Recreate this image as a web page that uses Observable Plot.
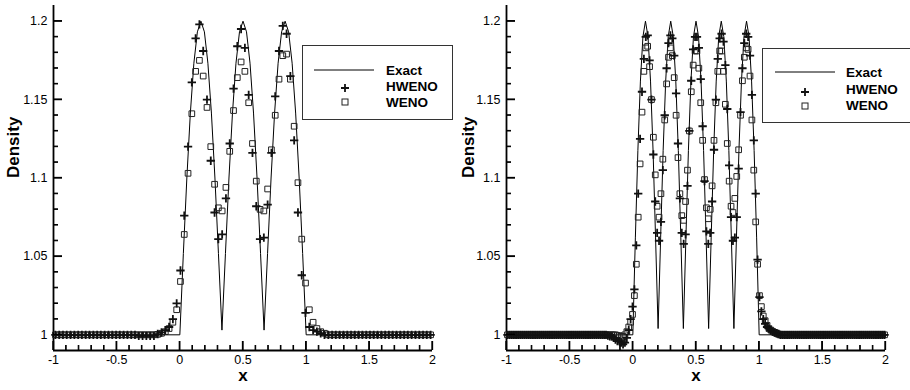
<!DOCTYPE html>
<html><head><meta charset="utf-8">
<script src="https://cdn.jsdelivr.net/npm/d3@7"></script>
<script src="https://cdn.jsdelivr.net/npm/@observablehq/plot@0.6"></script>
<style>
body{margin:0;background:#fff;font-family:"Liberation Sans",Arial,sans-serif;}
#wrap{display:flex;width:910px;height:390px;}
.panel{position:relative;width:455px;height:390px;overflow:hidden;}
.legend{position:absolute;box-sizing:border-box;border:1.3px solid #333;background:#fff;}
</style></head><body>
<div id="wrap"><div class="panel" id="p1"></div><div class="panel" id="p2"></div></div>
<script>
// ---------- tick labels ----------
const xMajor = [-1, -0.5, 0, 0.5, 1, 1.5, 2];
const xMinor = [-0.9,-0.8,-0.7,-0.6,-0.4,-0.3,-0.2,-0.1,0.1,0.2,0.3,0.4,0.6,0.7,0.8,0.9,1.1,1.2,1.3,1.4,1.6,1.7,1.8,1.9];
const yMajor = [1, 1.05, 1.1, 1.15, 1.2];
const yMinor = [1.01,1.02,1.03,1.04,1.06,1.07,1.08,1.09,1.11,1.12,1.13,1.14,1.16,1.17,1.18,1.19];
const seriesNames = ["Exact", "HWENO", "WENO"];

// ---------- left panel (100 cells) ----------
const leftX = [-0.985,-0.955,-0.925,-0.895,-0.865,-0.835,-0.805,-0.775,-0.745,-0.715,
-0.685,-0.655,-0.625,-0.595,-0.565,-0.535,-0.505,-0.475,-0.445,-0.415,
-0.385,-0.355,-0.325,-0.295,-0.265,-0.235,-0.205,-0.175,-0.145,-0.115,
-0.085,-0.055,-0.025,0.005,0.035,0.065,0.095,0.125,0.155,0.185,
0.215,0.245,0.275,0.305,0.335,0.365,0.395,0.425,0.455,0.485,
0.515,0.545,0.575,0.605,0.635,0.665,0.695,0.725,0.755,0.785,
0.815,0.845,0.875,0.905,0.935,0.965,0.995,1.025,1.055,1.085,
1.115,1.145,1.175,1.205,1.235,1.265,1.295,1.325,1.355,1.385,
1.415,1.445,1.475,1.505,1.535,1.565,1.595,1.625,1.655,1.685,
1.715,1.745,1.775,1.805,1.835,1.865,1.895,1.925,1.955,1.985];
const leftHWENO = [1,1,1,1,1,1,1,1,1,1,
1,1,1,1,1,1,1,1,1,1,
1,1,0.9994,0.9994,0.9994,0.9994,0.9994,1.0005,1.0015,1.003,
1.005,1.010,1.020,1.041,1.076,1.120,1.161,1.189,1.198,1.181,
1.150,1.111,1.078,1.061,1.064,1.087,1.122,1.157,1.184,1.195,
1.183,1.153,1.116,1.082,1.061,1.062,1.083,1.116,1.152,1.181,
1.197,1.192,1.165,1.124,1.078,1.038,1.014,1.005,1.003,1.002,
1.001,1,1,1,1,1,1,1,1,1,
1,1,1,1,1,1,1,1,1,1,
1,1,1,1,1,1,1,1,1,1];
const leftWENO = [1,1,1,1,1,1,1,1,1,1,
1,1,1,1,1,1,1,1,1,1,
1,1,1,1,1,1,1,1.0003,1.001,1.002,
1.004,1.008,1.016,1.034,1.064,1.103,1.141,1.168,1.175,1.165,
1.145,1.120,1.096,1.081,1.079,1.094,1.117,1.143,1.164,1.174,
1.168,1.148,1.122,1.098,1.080,1.079,1.093,1.118,1.140,1.163,
1.178,1.179,1.163,1.133,1.097,1.061,1.033,1.016,1.008,1.004,
1.002,1.001,1,1,1,1,1,1,1,1,
1,1,1,1,1,1,1,1,1,1,
1,1,1,1,1,1,1,1,1,1];
const leftExactX = [-1,0,0.0278,0.0556,0.0833,0.1111,0.1389,0.1667,0.1944,0.2222,0.25,0.2778,0.3056,
0.3333,0.3611,0.3889,0.4167,0.4444,0.4722,0.5,0.5278,0.5556,0.5833,0.6111,0.6389,
0.6667,0.6944,0.7222,0.75,0.7778,0.8056,0.8333,0.8611,0.8889,0.9167,0.9444,0.9722,1,2];
const leftExactY = [1,1,1.0518,1.1,1.1414,1.1732,1.1932,1.2,1.1932,1.1732,1.1414,1.1,1.0518,
1.003,1.0518,1.1,1.1414,1.1732,1.1932,1.2,1.1932,1.1732,1.1414,1.1,1.0518,
1.003,1.0518,1.1,1.1414,1.1732,1.1932,1.2,1.1932,1.1732,1.1414,1.1,1.0518,1,1];

// ---------- right panel (200 cells) ----------
const rightX = [-0.9925,-0.9775,-0.9625,-0.9475,-0.9325,-0.9175,-0.9025,-0.8875,-0.8725,-0.8575,
-0.8425,-0.8275,-0.8125,-0.7975,-0.7825,-0.7675,-0.7525,-0.7375,-0.7225,-0.7075,
-0.6925,-0.6775,-0.6625,-0.6475,-0.6325,-0.6175,-0.6025,-0.5875,-0.5725,-0.5575,
-0.5425,-0.5275,-0.5125,-0.4975,-0.4825,-0.4675,-0.4525,-0.4375,-0.4225,-0.4075,
-0.3925,-0.3775,-0.3625,-0.3475,-0.3325,-0.3175,-0.3025,-0.2875,-0.2725,-0.2575,
-0.2425,-0.2275,-0.2125,-0.1975,-0.1825,-0.1675,-0.1525,-0.1375,-0.1225,-0.1075,
-0.0925,-0.0775,-0.0625,-0.0475,-0.0325,-0.0175,-0.0025,0.0125,0.0275,0.0425,
0.0575,0.0725,0.0875,0.1025,0.1175,0.1325,0.1475,0.1625,0.1775,0.1925,
0.2075,0.2225,0.2375,0.2525,0.2675,0.2825,0.2975,0.3125,0.3275,0.3425,
0.3575,0.3725,0.3875,0.4025,0.4175,0.4325,0.4475,0.4625,0.4775,0.4925,
0.5075,0.5225,0.5375,0.5525,0.5675,0.5825,0.5975,0.6125,0.6275,0.6425,
0.6575,0.6725,0.6875,0.7025,0.7175,0.7325,0.7475,0.7625,0.7775,0.7925,
0.8075,0.8225,0.8375,0.8525,0.8675,0.8825,0.8975,0.9125,0.9275,0.9425,
0.9575,0.9725,0.9875,1.0025,1.0175,1.0325,1.0475,1.0625,1.0775,1.0925,
1.1075,1.1225,1.1375,1.1525,1.1675,1.1825,1.1975,1.2125,1.2275,1.2425,
1.2575,1.2725,1.2875,1.3025,1.3175,1.3325,1.3475,1.3625,1.3775,1.3925,
1.4075,1.4225,1.4375,1.4525,1.4675,1.4825,1.4975,1.5125,1.5275,1.5425,
1.5575,1.5725,1.5875,1.6025,1.6175,1.6325,1.6475,1.6625,1.6775,1.6925,
1.7075,1.7225,1.7375,1.7525,1.7675,1.7825,1.7975,1.8125,1.8275,1.8425,
1.8575,1.8725,1.8875,1.9025,1.9175,1.9325,1.9475,1.9625,1.9775,1.9925];
const rightHWENO = [1,1,1,1,1,1,1,1,1,1,
1,1,1,1,1,1,1,1,1,1,
1,1,1,1,1,1,1,1,1,1,
1,1,1,1,1,1,1,1,1,1,
1,1,1,1,1,1,1,1,1,1,
1,1,1,0.9995,0.999,0.999,0.998,0.997,0.996,0.996,
0.995,0.994,0.995,0.998,1.003,1.010,1.018,1.029,1.057,1.090,
1.125,1.155,1.176,1.190,1.191,1.175,1.150,1.115,1.085,1.065,
1.060,1.072,1.105,1.140,1.170,1.186,1.191,1.189,1.178,1.154,
1.122,1.087,1.065,1.058,1.064,1.095,1.130,1.162,1.182,1.190,
1.190,1.183,1.163,1.133,1.098,1.066,1.058,1.065,1.085,1.118,
1.150,1.176,1.189,1.192,1.187,1.172,1.144,1.108,1.075,1.060,
1.062,1.075,1.106,1.142,1.170,1.186,1.192,1.190,1.178,1.153,
1.124,1.090,1.048,1.024,1.015,1.010,1.007,1.005,1.004,1.003,
1.002,1.0015,1.001,1.0005,1,1,1,1,1,1,
1,1,1,1,1,1,1,1,1,1,
1,1,1,1,1,1,1,1,1,1,
1,1,1,1,1,1,1,1,1,1,
1,1,1,1,1,1,1,1,1,1,
1,1,1,1,1,1,1,1,1,1];
const rightWENO = [1,1,1,1,1,1,1,1,1,1,
1,1,1,1,1,1,1,1,1,1,
1,1,1,1,1,1,1,1,1,1,
1,1,1,1,1,1,1,1,1,1,
1,1,1,1,1,1,1,1,1,1,
1,1,1,1,1,1,1,1,0.9995,0.9995,
0.999,0.999,1.0,1.002,1.005,1.008,1.013,1.025,1.045,1.075,
1.109,1.142,1.168,1.183,1.184,1.171,1.150,1.126,1.102,1.082,
1.075,1.090,1.112,1.137,1.160,1.177,1.183,1.178,1.164,1.140,
1.113,1.090,1.076,1.073,1.085,1.105,1.130,1.155,1.172,1.181,
1.181,1.170,1.148,1.124,1.099,1.081,1.074,1.080,1.095,1.124,
1.148,1.168,1.181,1.181,1.168,1.147,1.122,1.098,1.082,1.078,
1.087,1.101,1.118,1.140,1.162,1.177,1.183,1.182,1.165,1.137,
1.105,1.072,1.045,1.025,1.018,1.012,1.009,1.006,1.004,1.003,
1.002,1.0015,1.001,1.0005,1,1,1,1,1,1,
1,1,1,1,1,1,1,1,1,1,
1,1,1,1,1,1,1,1,1,1,
1,1,1,1,1,1,1,1,1,1,
1,1,1,1,1,1,1,1,1,1,
1,1,1,1,1,1,1,1,1,1];
const rightExactX = [-1,0,0.02,0.04,0.06,0.08,0.1,0.12,0.14,0.16,0.18,0.2,0.22,0.24,0.26,0.28,0.3,0.32,0.34,0.36,0.38,
0.4,0.42,0.44,0.46,0.48,0.5,0.52,0.54,0.56,0.58,0.6,0.62,0.64,0.66,0.68,0.7,0.72,0.74,0.76,0.78,
0.8,0.82,0.84,0.86,0.88,0.9,0.92,0.94,0.96,0.98,1,2];
const rightExactY = [1,1,1.0618,1.1176,1.1618,1.1902,1.2,1.1902,1.1618,1.1176,1.0618,
1.004,1.0618,1.1176,1.1618,1.1902,1.2,1.1902,1.1618,1.1176,1.0618,
1.004,1.0618,1.1176,1.1618,1.1902,1.2,1.1902,1.1618,1.1176,1.0618,
1.004,1.0618,1.1176,1.1618,1.1902,1.2,1.1902,1.1618,1.1176,1.0618,
1.004,1.0618,1.1176,1.1618,1.1902,1.2,1.1902,1.1618,1.1176,1.0618,1,1];

const FONT = "'Liberation Sans', Arial, Helvetica, sans-serif";
const fmt = d => String(d);
const X0 = -1, X1 = 2, Y0 = 0.99, Y1 = 1.21;
const W = 455, H = 390, MT = 5, MB = 40;
const MAJOR = 9, MINOR = 5; // tick lengths in px
const NS = "http://www.w3.org/2000/svg";

function drawPanel(el, cfg) {
  const cells = cfg.x.map((x, i) => ({x, h: cfg.h[i], w: cfg.w[i]}));
  const exact = cfg.ex.map((x, i) => ({x, y: cfg.ey[i]}));
  const pxX = (X1 - X0) / (W - cfg.ml - cfg.mr);
  const pxY = (Y1 - Y0) / (H - MT - MB);
  const chart = Plot.plot({
    width: W, height: H,
    marginLeft: cfg.ml, marginRight: cfg.mr, marginTop: MT, marginBottom: MB,
    x: {domain: [X0, X1]},
    y: {domain: [Y0, Y1]},
    style: {fontFamily: FONT, fontSize: "12.5px", color: "#000", background: "#fff", overflow: "visible"},
    marks: [
      Plot.axisX({ticks: xMajor, tickSize: 0, tickPadding: 5, tickFormat: fmt, label: null}),
      Plot.axisY({ticks: yMajor, tickSize: 0, tickPadding: 6, tickFormat: fmt, label: null}),
      Plot.ruleX(xMajor, {x: d => d, y1: () => Y0, y2: () => Y0 + MAJOR * pxY, stroke: "#000", strokeWidth: 1.3}),
      Plot.ruleX(xMinor, {x: d => d, y1: () => Y0, y2: () => Y0 + MINOR * pxY, stroke: "#000", strokeWidth: 1.1}),
      Plot.ruleY(yMajor, {y: d => d, x1: () => X0, x2: () => X0 + MAJOR * pxX, stroke: "#000", strokeWidth: 1.3}),
      Plot.ruleY(yMinor, {y: d => d, x1: () => X0, x2: () => X0 + MINOR * pxX, stroke: "#000", strokeWidth: 1.1}),
      Plot.ruleY([Y0], {stroke: "#000", strokeWidth: 1.8}),
      Plot.ruleX([X0], {stroke: "#000", strokeWidth: 1.8}),
      Plot.line(exact, {x: "x", y: "y", stroke: "#000", strokeWidth: 1}),
      Plot.dot(cells, {x: "x", y: "w", symbol: "square", r: 3.2, fill: "none", stroke: "#222", strokeWidth: 1}),
      Plot.dot(cells, {x: "x", y: "h", symbol: "plus", r: 2.8, stroke: "#111", strokeWidth: 1.8}),
      Plot.text(["Density"], {frameAnchor: "left", dx: -cfg.ml + 13, rotate: -90, text: d => d, fontWeight: "bold", fontSize: 17}),
      Plot.text(["x"], {frameAnchor: "bottom", dy: 30, text: d => d, fontWeight: "bold", fontSize: 17})
    ]
  });
  el.appendChild(chart);

  // inward tick marks, placed through Plot's own scales
  try {
    const sx = chart.scale("x"), sy = chart.scale("y");
    const bottom = sy.apply(Y0), left = sx.apply(X0);
    const g = document.createElementNS(NS, "g");
    const seg = (x1, y1, x2, y2, w) => {
      const l = document.createElementNS(NS, "line");
      l.setAttribute("x1", x1); l.setAttribute("y1", y1); l.setAttribute("x2", x2); l.setAttribute("y2", y2);
      l.setAttribute("stroke", "#000"); l.setAttribute("stroke-width", w);
      g.appendChild(l);
    };
    xMajor.forEach(v => seg(sx.apply(v), bottom, sx.apply(v), bottom - MAJOR, 1.3));
    xMinor.forEach(v => seg(sx.apply(v), bottom, sx.apply(v), bottom - MINOR, 1.1));
    yMajor.forEach(v => seg(left, sy.apply(v), left + MAJOR, sy.apply(v), 1.3));
    yMinor.forEach(v => seg(left, sy.apply(v), left + MINOR, sy.apply(v), 1.1));
    chart.appendChild(g);
  } catch (e) {}

  // legend box
  const L = cfg.legend;
  const box = document.createElement("div");
  box.className = "legend";
  Object.assign(box.style, {left: L.left + "px", top: L.top + "px", width: L.w + "px", height: L.h + "px"});
  const svg = document.createElementNS(NS, "svg");
  svg.setAttribute("width", L.w); svg.setAttribute("height", L.h);
  svg.style.position = "absolute"; svg.style.left = "-1px"; svg.style.top = "-1px"; svg.style.overflow = "visible";
  const mk = (tag, attrs, txt) => { const e = document.createElementNS(NS, tag); for (const k in attrs) e.setAttribute(k, attrs[k]); if (txt) e.textContent = txt; svg.appendChild(e); return e; };
  mk("line", {x1: L.lx1, x2: L.lx2, y1: L.y[0], y2: L.y[0], stroke: "#000", "stroke-width": 1});
  const cx = L.sx, py = L.sy[0], sq = L.sy[1];
  mk("path", {d: `M${cx-4},${py}H${cx+4}M${cx},${py-4}V${py+4}`, stroke: "#111", "stroke-width": 1.8, fill: "none"});
  mk("rect", {x: cx - 3, y: sq - 3, width: 6, height: 6, stroke: "#222", "stroke-width": 1, fill: "none"});
  seriesNames.forEach((s, i) => mk("text", {x: L.tx, y: L.y[i], "dominant-baseline": "central", "font-family": FONT, "font-weight": "bold", "font-size": 13.5, fill: "#000"}, s));
  box.appendChild(svg);
  el.appendChild(box);
}

drawPanel(document.getElementById("p1"), {
  x: leftX, h: leftHWENO, w: leftWENO, ex: leftExactX, ey: leftExactY, ml: 53, mr: 23,
  legend: {left: 301.5, top: 45, w: 151, h: 75, lx1: 12, lx2: 72, tx: 84, y: [25, 41, 57], sx: 43, sy: [43, 57]}
});
drawPanel(document.getElementById("p2"), {
  x: rightX, h: rightHWENO, w: rightWENO, ex: rightExactX, ey: rightExactY, ml: 51, mr: 25,
  legend: {left: 306.5, top: 48, w: 151, h: 75, lx1: 13, lx2: 73, tx: 84, y: [24, 41, 57], sx: 43, sy: [44, 58]}
});
</script></body></html>
